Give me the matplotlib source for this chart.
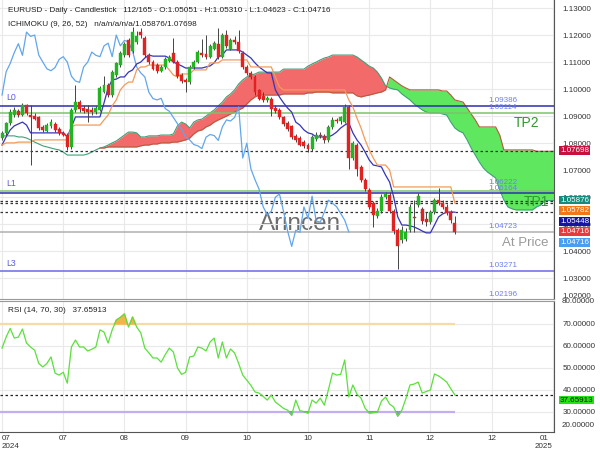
import numpy as np
import matplotlib
matplotlib.use("Agg")
import matplotlib.pyplot as plt
from matplotlib.ticker import FormatStrFormatter

plt.rcParams['font.family'] = ['Liberation Sans', 'DejaVu Sans']

# ---------------- data ----------------
opens = [1.0818,1.0838,1.0874,1.0905,1.0920,1.0905,1.0940,1.0905,1.0900,1.0895,
         1.0858,1.0845,1.0862,1.0870,1.0852,1.0838,1.0832,1.0786,1.0923,1.0952,
         1.0930,1.0928,1.0924,1.0915,1.0923,1.0990,1.1015,1.0978,1.1052,1.1089,
         1.1126,1.1182,1.1140,1.1175,1.1210,1.1190,1.1126,1.1100,1.1089,1.1068,
         1.1080,1.1105,1.1135,1.1100,1.1052,1.1034,1.1025,1.1082,1.1100,1.1135,
         1.1130,1.1120,1.1150,1.1168,1.1120,1.1200,1.1150,1.1182,1.1175,1.1135,
         1.1082,1.1060,1.1045,1.0995,1.0975,1.0960,1.0962,1.0930,1.0922,1.0895,
         1.0875,1.0862,1.0825,1.0818,1.0805,1.0795,1.0780,1.0815,1.0832,1.0828,
         1.0810,1.0860,1.0886,1.0882,1.0880,1.0934,1.0745,1.0795,1.0710,1.0665,
         1.0628,1.0579,1.0530,1.0548,1.0600,1.0610,1.0548,1.0477,1.0440,1.0445,
         1.0477,1.0525,1.0570,1.0555,1.0520,1.0508,1.0545,1.0589,1.0578,1.0565,
         1.0545,1.05051]
highs = [1.0845,1.0880,1.0925,1.0935,1.0928,1.0948,1.0946,1.0940,1.0912,1.0900,
         1.0866,1.0875,1.0888,1.0878,1.0860,1.0845,1.0838,1.0930,1.1015,1.0960,
         1.0942,1.0940,1.0932,1.0938,1.1010,1.1050,1.1022,1.1070,1.1100,1.1140,
         1.1175,1.1190,1.1230,1.1215,1.1225,1.1198,1.1135,1.1108,1.1098,1.1088,
         1.1118,1.1128,1.1190,1.1108,1.1060,1.1040,1.1090,1.1108,1.1145,1.1185,
         1.1200,1.1168,1.1178,1.1225,1.1208,1.1220,1.1190,1.1195,1.1220,1.1142,
         1.1090,1.1068,1.1052,1.1002,1.0990,1.0975,1.0972,1.0940,1.0930,1.0902,
         1.0882,1.0868,1.0835,1.0825,1.0812,1.0802,1.0830,1.0840,1.0842,1.0835,
         1.0868,1.0895,1.0892,1.0902,1.0945,1.0942,1.0808,1.0802,1.0718,1.0672,
         1.0635,1.0585,1.0560,1.0612,1.0620,1.0618,1.0555,1.0485,1.0492,1.0485,
         1.0575,1.0590,1.0615,1.0562,1.0545,1.0552,1.0598,1.0634,1.0590,1.0575,
         1.0552,1.05310]
lows = [1.0810,1.0832,1.0868,1.0898,1.0898,1.0900,1.0905,1.0719,1.0885,1.0848,
        1.0840,1.0840,1.0855,1.0842,1.0830,1.0826,1.0775,1.0780,1.0915,1.0915,
        1.0912,1.0880,1.0905,1.0908,1.0918,1.0985,1.0970,1.0972,1.1045,1.1082,
        1.1120,1.1118,1.1135,1.1168,1.1190,1.1120,1.1092,1.1070,1.1060,1.1062,
        1.1075,1.1100,1.1095,1.1040,1.1022,1.0990,1.1018,1.1076,1.1095,1.1118,
        1.1112,1.1115,1.1145,1.1112,1.1115,1.1152,1.1145,1.1168,1.1132,1.1075,
        1.1052,1.1038,1.0980,1.0958,1.0952,1.0952,1.0900,1.0910,1.0888,1.0865,
        1.0845,1.0815,1.0805,1.0788,1.0782,1.0768,1.0772,1.0808,1.0820,1.0800,
        1.0805,1.0852,1.0875,1.0872,1.0875,1.0705,1.0738,1.0680,1.0655,1.0622,
        1.0555,1.0490,1.0522,1.0540,1.0592,1.0540,1.0465,1.0335,1.0432,1.0438,
        1.0470,1.0470,1.0562,1.0500,1.0495,1.0500,1.0538,1.0570,1.0558,1.0535,
        1.0505,1.04623]
closes = [1.0838,1.0874,1.0915,1.0922,1.0905,1.0940,1.0912,1.0898,1.0890,1.0855,
          1.0848,1.0868,1.0880,1.0850,1.0838,1.0832,1.0786,1.0923,1.0952,1.0925,
          1.0920,1.0915,1.0916,1.0930,1.1004,1.1015,1.0978,1.1064,1.1095,1.1135,
          1.1168,1.1125,1.1211,1.1195,1.1200,1.1126,1.1100,1.1075,1.1068,1.1080,
          1.1110,1.1120,1.1100,1.1048,1.1030,1.1025,1.1082,1.1100,1.1137,1.1125,
          1.1120,1.1160,1.1170,1.1120,1.1200,1.1160,1.1180,1.1175,1.1140,1.1082,
          1.1060,1.1045,1.0988,1.0965,1.0960,1.0966,1.0928,1.0918,1.0895,1.0872,
          1.0852,1.0823,1.0812,1.0795,1.0790,1.0780,1.0822,1.0832,1.0828,1.0810,
          1.0860,1.0886,1.0882,1.0895,1.0934,1.0745,1.0800,1.0705,1.0665,1.0630,
          1.0565,1.0535,1.0548,1.0600,1.0612,1.0548,1.0475,1.0418,1.0478,1.0470,
          1.0564,1.0522,1.0604,1.0512,1.0508,1.0545,1.0589,1.0578,1.0565,1.0540,
          1.0515,1.04716]

tenkan = [1.0793,1.0823,1.0849,1.0864,1.0871,1.0878,1.0867,1.0838,1.0838,1.0838,
          1.0838,1.0838,1.0838,1.0838,1.0838,1.0838,1.0823,1.0860,1.0897,1.0897,
          1.0897,1.0897,1.0897,1.0897,1.0897,1.0949,1.1004,1.1034,1.1037,1.1045,
          1.1045,1.1063,1.1071,1.1093,1.1100,1.1115,1.1126,1.1122,1.1122,1.1122,
          1.1122,1.1115,1.1100,1.1093,1.1086,1.1078,1.1078,1.1078,1.1078,1.1078,
          1.1082,1.1086,1.1097,1.1119,1.1126,1.1145,1.1145,1.1145,1.1145,1.1137,
          1.1126,1.1115,1.1097,1.1082,1.1071,1.1060,1.1060,1.0997,1.0971,1.0949,
          1.0930,1.0915,1.0878,1.0867,1.0849,1.0838,1.0834,1.0823,1.0823,1.0823,
          1.0823,1.0830,1.0841,1.0856,1.0867,1.0875,1.0838,1.0812,1.0793,1.0767,
          1.0738,1.0719,1.0716,1.0712,1.0682,1.0656,1.0601,1.0527,1.0497,1.0497,
          1.0494,1.0490,1.0483,1.0475,1.0468,1.0468,1.0497,1.0527,1.0538,1.0545,
          1.0545,1.05448]
kijun = [1.0793,1.0801,1.0801,1.0801,1.0804,1.0804,1.0804,1.0804,1.0812,1.0812,
         1.0812,1.0812,1.0812,1.0812,1.0812,1.0812,1.0812,1.0860,1.0867,1.0867,
         1.0867,1.0867,1.0867,1.0867,1.0867,1.0886,1.0904,1.0938,1.0960,1.0997,
         1.1015,1.1026,1.1026,1.1071,1.1082,1.1082,1.1089,1.1089,1.1089,1.1089,
         1.1089,1.1071,1.1052,1.1045,1.1056,1.1056,1.1056,1.1071,1.1071,1.1071,
         1.1071,1.1097,1.1097,1.1097,1.1108,1.1108,1.1108,1.1108,1.1108,1.1108,
         1.1108,1.1082,1.1082,1.1082,1.1082,1.1082,1.1082,1.1045,1.1008,1.0997,
         1.0997,1.0997,1.0997,1.0997,1.0997,1.0997,1.0997,1.0997,1.0997,1.0997,
         1.0997,1.0997,1.0997,1.0997,1.0997,1.0960,1.0934,1.0893,1.0856,1.0812,
         1.0775,1.0745,1.0719,1.0719,1.0719,1.0701,1.0638,1.0638,1.0638,1.0638,
         1.0638,1.0638,1.0638,1.0638,1.0638,1.0638,1.0638,1.0638,1.0638,1.0638,
         1.0638,1.05782]
nan = float('nan')
span_a = [1.0827,1.0827,1.0827,1.0827,1.0823,1.0823,1.0819,1.0812,1.0804,1.0797,
          1.0790,1.0786,1.0782,1.0778,1.0775,1.0767,1.0756,1.0756,1.0756,1.0756,
          1.0756,1.0760,1.0767,1.0775,1.0782,1.0786,1.0793,1.0801,1.0808,1.0819,
          1.0830,1.0841,1.0841,1.0838,1.0823,1.0823,1.0827,1.0827,1.0827,1.0830,
          1.0830,1.0830,1.0834,1.0864,1.0878,1.0871,1.0856,1.0878,1.0886,1.0889,
          1.0900,1.0912,1.0923,1.0938,1.0952,1.0971,1.0982,1.0997,1.1019,1.1034,
          1.1045,1.1052,1.1056,1.1063,1.1063,1.1063,1.1063,1.1063,1.1063,1.1074,
          1.1074,1.1074,1.1074,1.1074,1.1074,1.1085,1.1093,1.1100,1.1108,1.1115,
          1.1119,1.1126,1.1126,1.1126,1.1126,1.1126,1.1126,1.1119,1.1108,1.1097,
          1.1085,1.1078,1.1063,1.1041,1.1012,1.1004,1.1000,1.0997,1.0982,1.0971,
          1.0960,1.0945,1.0934,1.0923,1.0915,1.0912,1.0912,1.0912,1.0908,1.0904,
          1.0878,1.0856,1.0845,1.0838,1.0812,1.0782,1.0756,1.0730,1.0708,1.0693,
          1.0682,1.0671,1.0627,1.0590,1.0564,1.0557,1.0553,1.0553,1.0553,1.0553,
          1.0553,1.0564,1.0571,1.05876,1.05876,1.05876,1.05876,1.05876]
span_b = [nan]*24 + [
          1.0782,1.0782,1.0786,1.0786,1.0786,1.0786,1.0786,1.0786,1.0786,1.0786,
          1.0790,1.0793,1.0793,1.0797,1.0797,1.0801,1.0801,1.0801,1.0804,1.0804,
          1.0808,1.0812,1.0819,1.0834,1.0845,1.0849,1.0860,1.0867,1.0878,1.0886,
          1.0893,1.0900,1.0908,1.0915,1.0923,1.0930,1.0945,1.0960,1.0971,1.0978,
          1.0978,1.0978,1.0978,1.0978,1.0978,1.0982,1.0982,1.0982,1.0982,1.0982,
          1.0982,1.0986,1.0986,1.0989,1.0989,1.0989,1.0989,1.0986,1.0986,1.0986,
          1.0986,1.0986,1.0986,1.0975,1.0971,1.0975,1.0978,1.0982,1.0986,1.0989,
          1.0997,1.1045,1.1034,1.1023,1.1012,1.1004,1.0997,1.0997,1.0997,1.0997,
          1.0997,1.0997,1.0997,1.0997,1.0993,1.0993,1.0978,1.0960,1.0956,1.0952,
          1.0930,1.0908,1.0886,1.0860,1.0860,1.0860,1.0860,1.0860,1.0830,1.0775,
          1.0775,1.0775,1.0775,1.0775,1.0775,1.0775,1.0775,1.0770,1.0770,1.07698,
          1.07698,1.07698,1.07698,1.07698]

rsi = [59,64,68,63.6,64,67.7,61.3,59.5,58,52,
       50.4,52,55,47.6,46.7,48,43,59.5,62.7,59.5,
       59.5,57.7,58.5,59.5,67.3,66.3,61.3,67.3,71.8,73,
       74.6,68.6,73.2,68.6,66,59,56.8,54.5,54.5,52.6,
       56,59,57.2,50,47,48,55,55.4,59.5,59,
       57.7,61.8,63.6,54.5,61.8,54.5,58.6,56.8,52,46.7,
       44.4,42,39,38.5,37,35.3,37.6,34.4,33,31.5,
       30.7,28.4,35.3,30.5,30,29.4,35.3,33.9,36.2,33,
       40,47.6,46.7,47,53.6,36.7,42.2,38,36.2,31.6,
       29.4,29.6,29.8,34.8,36.7,33.5,32.1,28,30.7,36,
       42.2,42.6,43.5,38.5,39.2,39.9,47.2,46.3,45,43.5,
       40.5,37.65913]

tick_pos = [0, 15, 30, 45, 60, 75, 90, 105, 120, 135]
tick_lab = ['07\n2024', '07', '08', '09', '10', '10', '11', '12', '12', '01\n2025']

levels = {'L0': 1.09386, 'g0': 1.09114, 'g1': 1.06222, 'L1': 1.06164,
          'price': 1.04723, 'L3': 1.03271, 'low': 1.02196}
dotted = [1.07698, 1.05876, 1.05782, 1.05448]
rsi_last = 37.65913

# ---------------- figure ----------------
W, H = 600, 450
fig = plt.figure(figsize=(6, 4.5), dpi=100)
def box(l, t, r, b):
    return [l / W, 1 - b / H, (r - l) / W, (b - t) / H]

ax = fig.add_axes(box(0, 0, 554, 299))
ax2 = fig.add_axes(box(0, 301, 554, 432))

o = np.array(opens); h = np.array(highs); l = np.array(lows); c = np.array(closes)
n = len(c)
idx = np.arange(n)
XMIN, XMAX = -0.5, 135.3
ax.set_xlim(XMIN, XMAX); ax2.set_xlim(XMIN, XMAX)
ax.set_ylim(1.02234, 1.13297)
ax2.set_ylim(20.74, 80.49)

# grid
ax.set_yticks(np.arange(1.03, 1.1301, 0.01))
ax.set_xticks(tick_pos)
ax.grid(True, color='#e9e9e9', lw=0.8, zorder=0)
ax2.set_yticks([30, 40, 50, 60, 70])
ax2.set_xticks(tick_pos)
ax2.grid(True, color='#e9e9e9', lw=0.8, zorder=0)
ax.set_axisbelow(True); ax2.set_axisbelow(True)

# watermark
ax.text(0.5415, 0.251, 'Arincen', transform=ax.transAxes, fontsize=17.5,
        color='#6c6c6c', ha='center', va='center', zorder=0.5)

# cloud
sa = np.array(span_a); sb = np.array(span_b)
ix = np.arange(len(sa))
ax.fill_between(ix, sa, sb, where=sa >= sb, interpolate=True,
                color='#f26a6a', lw=0, zorder=1)
ax.fill_between(ix, sa, sb, where=sa < sb, interpolate=True,
                color='#5fe85f', lw=0, zorder=1)
ax.plot(ix, sa, color='#3f9f78', lw=0.8, zorder=1.5)
ax.plot(ix, sb, color='#b85a40', lw=0.8, zorder=1.5)

# horizontal levels
ax.axhline(levels['L0'], color='#2e2eb0', lw=1.1, zorder=2)
ax.axhline(levels['g0'], color='#7cc46a', lw=1.1, zorder=2)
ax.axhline(levels['g1'], color='#7cc46a', lw=1.1, zorder=2)
ax.axhline(levels['L1'], color='#2e2eb0', lw=1.1, zorder=2)
ax.axhline(levels['price'], color='#b0b0b0', lw=1.1, zorder=2)
ax.axhline(levels['L3'], color='#6a6ae8', lw=1.1, zorder=2)
for v in dotted:
    ax.axhline(v, color='#333333', lw=0.9, ls=(0, (2, 2)), zorder=2)

# chikou, tenkan, kijun
ax.plot(idx[:n - 26], c[26:], color='#62a6ec', lw=0.9, zorder=3)
ax.plot(idx, tenkan, color='#3434b8', lw=0.9, zorder=3)
ax.plot(idx, kijun, color='#f39a5a', lw=0.9, zorder=3)

# candles
up = c >= o
col = np.where(up, '#22b422', '#e02222')
ax.vlines(idx, l, h, color='#444444', lw=0.7, zorder=4)
body = np.maximum(np.abs(c - o), 0.00012)
ax.bar(idx, body, bottom=np.minimum(o, c), width=0.72, color=col,
       edgecolor=col, lw=0.3, zorder=5)

# level labels
lab_col = '#6c7ef0'
def lvl_label(txt, v, dy=1.5):
    ax.annotate(txt, (122.8, v), xytext=(0, dy), textcoords='offset points',
                ha='center', va='bottom', fontsize=5.8, color=lab_col, zorder=6)
lvl_label('1.09386', levels['L0'])
lvl_label('1.09114', levels['g0'])
lvl_label('1.06222', levels['g1'], 3.5)
lvl_label('1.06164', levels['L1'], 0.5)
lvl_label('1.04723', levels['price'])
lvl_label('1.03271', levels['L3'])
for t, v in [('L0', levels['L0']), ('L1', levels['g1']), ('L3', levels['L3'])]:
    ax.annotate(t, (1.0, v), xytext=(0, 2.5), textcoords='offset points',
                ha='left', va='bottom', fontsize=6.3, color='#5a5ae6', zorder=6)
fig.text(503 / W, 1 - 295 / H, '1.02196', fontsize=5.8, color=lab_col,
         ha='center', va='center')
ax.text(128.5, 1.0874, 'TP2', fontsize=10, color='#2f9a2f', ha='center',
        va='center', zorder=6)
ax.text(131.0, 1.0581, 'TP1', fontsize=10, color='#2f9a2f', ha='center',
        va='center', zorder=6)
ax.text(128.3, 1.0430, 'At Price', fontsize=9.5, color='#9a9a9a', ha='center',
        va='center', zorder=6)

# RSI panel
r = np.array(rsi)
ax2.hlines(70, XMIN, n - 1, color='#f6dba6', lw=1.6, zorder=2)
ax2.hlines(30, XMIN, n - 1, color='#c2aef0', lw=1.6, zorder=2)
ax2.fill_between(idx, r, 70, where=r > 70, interpolate=True, color='#f3b44c', zorder=2.5)
ax2.fill_between(idx, r, 30, where=r < 30, interpolate=True, color='#9a86e0', zorder=2.5)
ax2.axhline(rsi_last, color='#222222', lw=0.9, ls=(0, (2, 2)), zorder=3)
ax2.plot(idx, r, color='#5be03c', lw=0.9, zorder=4)

# axes styling
for a in (ax, ax2):
    a.yaxis.tick_right()
    a.tick_params(axis='both', length=0, labelsize=5.8, colors='#333333')
    a.spines['left'].set_visible(False)
    a.spines['right'].set_color('#555555')
ax.spines['top'].set_visible(False)
ax.spines['bottom'].set_color('#999999')
ax2.spines['top'].set_color('#999999')
ax2.spines['bottom'].set_color('#555555')
ax.tick_params(axis='y', pad=6)
ax2.tick_params(axis='y', pad=6)
ax.yaxis.set_major_formatter(FormatStrFormatter('%.5f'))
ax2.yaxis.set_major_formatter(FormatStrFormatter('%.5f'))
ax.tick_params(labelbottom=False)
ax2.set_xticklabels(tick_lab)
ax2.tick_params(axis='x', pad=2)
xl = ax2.get_xticklabels()
xl[0].set_ha('left'); xl[0].set_multialignment('left')
xl[-1].set_ha('right'); xl[-1].set_multialignment('center')

# clamped tick labels
fig.text(562 / W, 1 - 296.5 / H, '1.02000', fontsize=5.8, color='#333333', va='center')
fig.text(562 / W, 1 - 301.5 / H, '80.00000', fontsize=5.8, color='#333333', va='center')
fig.text(562 / W, 1 - 425.5 / H, '20.00000', fontsize=5.8, color='#333333', va='center')

# value boxes
def vbox(txt, yc, fc, tc='white'):
    fig.text(560 / W, 1 - yc / H, txt, fontsize=5.8, color=tc, ha='left',
             va='center', zorder=10,
             bbox=dict(boxstyle='square,pad=0.1', fc=fc, ec='none'))
vbox('1.07698', 150.5, '#c8103c')
vbox('1.05876', 200.0, '#168a7c')
vbox('1.05782', 210.8, '#f07818')
vbox('1.05448', 221.4, '#1414a8')
vbox('1.04716', 231.8, '#e83a3a')
vbox('1.04716', 242.2, '#4a9ef0')
vbox('37.65913', 400.0, '#28e018', '#111111')

# headers
fig.text(8 / W, 1 - 10.7 / H,
         'EURUSD - Daily - Candlestick   112/165 - O:1.05051 - H:1.05310 - L:1.04623 - C:1.04716',
         fontsize=5.85, color='#222222', va='center')
fig.text(8 / W, 1 - 25 / H, 'ICHIMOKU (9, 26, 52)   n/a/n/a/n/a/1.05876/1.07698',
         fontsize=5.85, color='#222222', va='center')
fig.text(8 / W, 1 - 311 / H, 'RSI (14, 70, 30)   37.65913',
         fontsize=5.85, color='#222222', va='center')

fig.savefig('out.png', dpi=100, facecolor='white')
